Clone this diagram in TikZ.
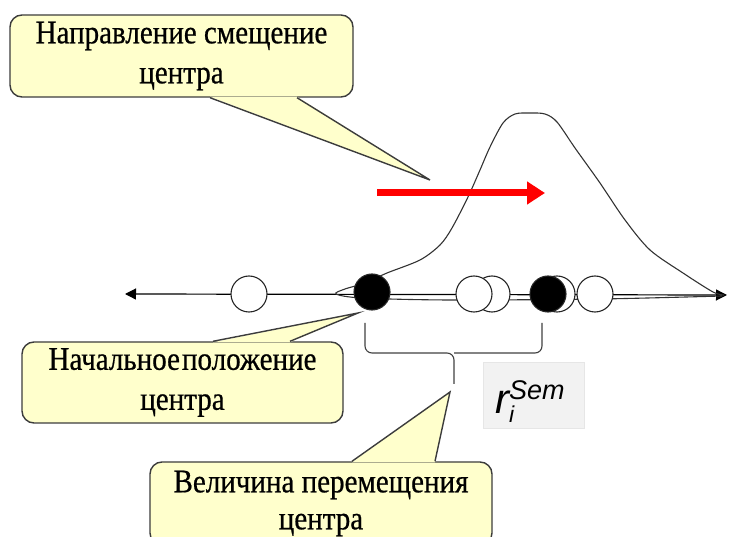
\documentclass[tikz,border=0pt]{standalone}
\usepackage{fontspec}
\setmainfont{Liberation Serif}[FakeStretch=0.88, FakeBold=0.6]
\newfontfamily\labelfont{Liberation Sans}
\usetikzlibrary{arrows.meta, positioning}

\definecolor{calloutfill}{RGB}{255,255,204}
\definecolor{calloutline}{RGB}{60,60,60}
\definecolor{rfill}{RGB}{242,242,242}
\definecolor{rline}{RGB}{230,230,230}

\begin{document}
\begin{tikzpicture}[
    x=1pt, y=-1pt,
    callout/.style={rectangle, draw=calloutline, fill=calloutfill, line width=1.4pt, rounded corners=12pt, align=center, inner sep=0pt, font=\fontsize{33}{40}\selectfont},
    pointer/.style={fill=calloutfill},
    pointer_line/.style={draw=calloutline, line width=1.4pt},
    dot/.style={circle, draw=black!85, line width=1.1pt, minimum size=36pt, inner sep=0pt},
    white_dot/.style={dot, fill=white},
    black_dot/.style={dot, fill=black},
    axis_line/.style={line width=1.2pt, {Triangle[length=11pt,width=11pt]}-{Triangle[length=11pt,width=11pt]}},
    shift_arrow/.style={red, line width=7pt, -{Triangle[length=18pt,width=22pt]}},
    bell/.style={draw=black!80, line width=1.1pt},
    brace_line/.style={draw=black!75, line width=1.1pt, rounded corners=7pt},
    rbox/.style={rectangle, draw=rline, fill=rfill, line width=0.8pt, minimum width=101pt, minimum height=66pt}
]
\useasboundingbox (0,0) rectangle (729,537);

% axis and distribution
\coordinate (axis_left) at (125,294);
\coordinate (axis_right) at (727,295);
\draw[axis_line] (axis_left) -- (axis_right);
\draw[bell] plot[smooth, tension=0.5] coordinates {(722,296) (600,299) (450,300) (362,298) (336,294) (345,289) (365,283) (387,273) (420,260) (440,245) (452,228) (468,197) (480,170) (490,147) (503,123) (515,114) (530,113) (545,114) (557,122) (575,148) (600,183) (625,220) (650,250) (683,273) (713,292) (724,295)};

% shift direction
\coordinate (shift_start) at (377,193);
\coordinate (shift_end) at (545,193);
\draw[shift_arrow] (shift_start) -- (shift_end);

% points on the axis
\node[white_dot] (c_left) at (249,294) {};
\node[black_dot] (c_origin) at (372,292) {};
\node[white_dot] (c_mid_back) at (492,294) {};
\node[white_dot] (c_mid) at (474,294) {};
\node[white_dot] (c_end_back) at (557,294) {};
\node[black_dot] (c_end) at (548,294) {};
\node[white_dot] (c_right) at (595,294) {};

% brace
\coordinate (brace_mid) at (454,353);
\coordinate (brace_tip) at (454,384);
\draw[brace_line] (365,323) |- (brace_mid) -- (brace_tip);
\draw[brace_line] (542,323) |- (brace_mid);

% label
\node[rbox] (r_box) at (533.5,395) {};
\node[anchor=base west, inner sep=0pt, font=\labelfont\itshape\fontsize{42}{42}\selectfont] (r_sym) at (495,414) {r\rlap{\raisebox{-9pt}{\fontsize{23}{23}\selectfont i}}\raisebox{14pt}{\fontsize{27}{27}\selectfont Sem}};

% callouts
\node[callout, minimum width=343pt, minimum height=82pt] (dir_box) at (181.5,56) {Направление смещение\\центра};
\coordinate (dir_tip) at (430,180);
\fill[pointer] ([xshift=28.5pt, yshift=1pt]dir_box.south) -- (dir_tip) -- ([xshift=115.5pt, yshift=1pt]dir_box.south) -- cycle;
\draw[pointer_line] ([xshift=28.5pt]dir_box.south) -- (dir_tip) -- ([xshift=115.5pt]dir_box.south);

\node[callout, minimum width=321pt, minimum height=81pt] (start_box) at (182.5,382.5) {Начальное\hspace{2pt}положение\\центра};
\coordinate (start_tip) at (358,313);
\fill[pointer] ([xshift=30.5pt, yshift=-1pt]start_box.north) -- (start_tip) -- ([xshift=107.5pt, yshift=-1pt]start_box.north) -- cycle;
\draw[pointer_line] ([xshift=30.5pt]start_box.north) -- (start_tip) -- ([xshift=107.5pt]start_box.north);

\node[callout, minimum width=342pt, minimum height=83pt, font=\fontsize{33}{37}\selectfont] (shift_box) at (321,503.5) {Величина перемещения\\центра};
\coordinate (shift_tip) at (450,392);
\fill[pointer] ([xshift=31pt, yshift=-1pt]shift_box.north) -- (shift_tip) -- ([xshift=114pt, yshift=-1pt]shift_box.north) -- cycle;
\draw[pointer_line] ([xshift=31pt]shift_box.north) -- (shift_tip) -- ([xshift=114pt]shift_box.north);
\end{tikzpicture}
\end{document}
